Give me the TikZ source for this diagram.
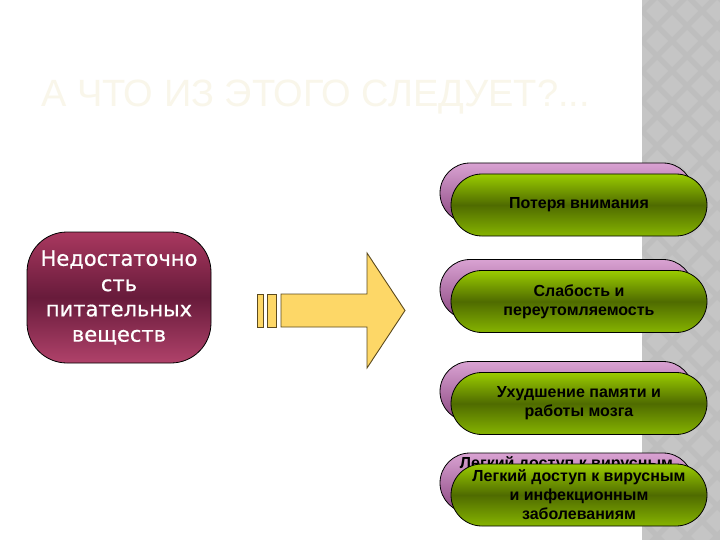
\documentclass[tikz,border=0pt]{standalone}
\usepackage{fontspec}
\setmainfont{Liberation Sans}
\newfontface\leftfont[FakeBold=0.7]{DejaVu Sans}
\definecolor{stripe}{HTML}{BEBEBE}
\definecolor{stripelt}{HTML}{C5C5C5}
\definecolor{titlecol}{HTML}{F9F6EA}
\definecolor{martop}{HTML}{A9385F}
\definecolor{marmid}{HTML}{681B3B}
\definecolor{marbot}{HTML}{B0426A}
\definecolor{grtop}{HTML}{9ACC00}
\definecolor{grmid}{HTML}{4F6B00}
\definecolor{grbot}{HTML}{86B400}
\definecolor{pktop}{HTML}{D9A2D2}
\definecolor{pkbot}{HTML}{8A4680}
\definecolor{arrfill}{HTML}{FDD767}
\definecolor{arrline}{HTML}{5C4A1E}
\tikzset{
  greenbox/.style={draw=black, line width=0.8pt, rounded corners=31pt,
    minimum width=256pt, minimum height=62pt, inner sep=0pt,
    top color=grtop, bottom color=grbot, middle color=grmid,
    align=center, font=\fontsize{16}{19}\selectfont\bfseries},
  pinkbox/.style={draw=black, line width=0.8pt, rounded corners=30pt,
    minimum width=253pt, minimum height=60pt, inner sep=0pt,
    top color=pktop, bottom color=pkbot},
  pinktext/.style={font=\fontsize{16}{19}\selectfont\bfseries, inner sep=0pt},
  leftbox/.style={draw=black, line width=0.8pt, rounded corners=40pt,
    minimum width=184pt, minimum height=131pt, inner sep=0pt,
    top color=martop, bottom color=marbot, middle color=marmid,
    text=white, align=center, font=\leftfont\fontsize{21}{25.3}\selectfont},
  arrowpart/.style={fill=arrfill, draw=arrline, line width=0.9pt, line join=miter}
}
\begin{document}
\begin{tikzpicture}[x=1pt,y=-1pt]
\useasboundingbox (0,0) rectangle (720,540);
\fill[white] (0,0) rectangle (720,540);
% grey stripe
\fill[stripe] (642,0) rectangle (720,540);
\begin{scope}
\clip (642,0) rectangle (720,540);
\foreach \i in {0,...,3}{
  \foreach \j in {0,...,19}{
    \fill[stripelt] ({642+\i*30},{\j*30-15}) -- ++(11,11) -- ++(-11,11) -- ++(-11,-11) -- cycle;
    \fill[stripelt] ({657+\i*30},{\j*30}) -- ++(11,11) -- ++(-11,11) -- ++(-11,-11) -- cycle;
  }
}
\end{scope}
% title
\node[text=titlecol, anchor=base west, inner sep=0pt, font=\fontsize{38}{42}\selectfont] (title) at (41,107) {А ЧТО ИЗ ЭТОГО СЛЕДУЕТ?...};
% left node
\node[leftbox] (src) at (119,297.5) {Недостаточно\\сть\\питательных\\веществ};
% block arrow
\draw[arrowpart] (257,294) rectangle (263,327);
\draw[arrowpart] (267,294) rectangle (276,327);
\draw[arrowpart] (281,294) -- (367,294) -- (367,253) -- (405,310.5) -- (367,368) -- (367,327) -- (281,327) -- cycle;
% right nodes
\node[pinkbox] (p1) at (566.5,193) {};
\node[greenbox] (g1) at (579,205) {Потеря внимания};
\node[pinkbox] (p2) at (566.5,289.5) {};
\node[greenbox] (g2) at (579,301.5) {Слабость и\\переутомляемость};
\node[pinkbox] (p3) at (566.5,391.5) {};
\node[greenbox] (g3) at (579,403.5) {Ухудшение памяти и\\работы мозга};
\node[pinkbox] (p4) at (566.5,483) {};
\node[pinktext, anchor=base] (p4t) at (566.5,468) {Легкий доступ к вирусным};
\node[greenbox] (g4) at (579,495) {Легкий доступ к вирусным\\и инфекционным\\заболеваниям};
\end{tikzpicture}
\end{document}
